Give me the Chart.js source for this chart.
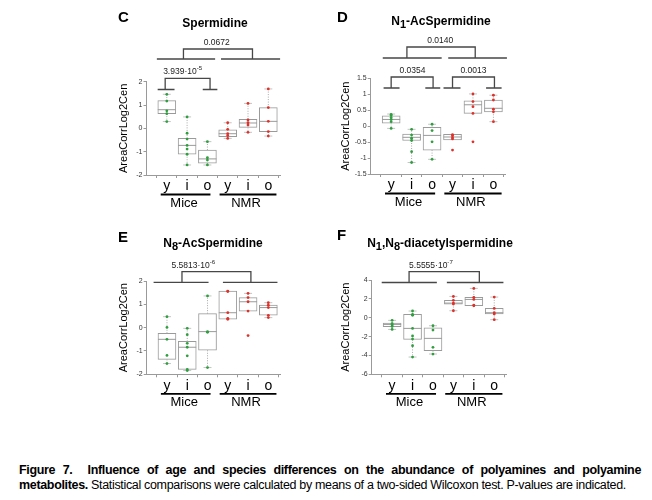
<!DOCTYPE html>
<html><head><meta charset="utf-8">
<script src="https://cdn.jsdelivr.net/npm/chart.js@4.4.1/dist/chart.umd.min.js"></script>
<style>
html,body{margin:0;padding:0;background:#fff}
body{width:652px;height:500px;position:relative;overflow:hidden}
canvas{position:absolute}
.cap{position:absolute;left:19px;font-family:'Liberation Sans Narrow','Liberation Sans',Arial,sans-serif;font-size:12.5px;line-height:15px;color:#000;white-space:nowrap}
</style></head><body>
<canvas id="cC" style="left:100px;top:0px;width:230px;height:220px" width="230" height="220"></canvas>
<canvas id="cD" style="left:326px;top:0px;width:230px;height:220px" width="230" height="220"></canvas>
<canvas id="cE" style="left:100px;top:220px;width:230px;height:215px" width="230" height="215"></canvas>
<canvas id="cF" style="left:326px;top:220px;width:230px;height:215px" width="230" height="215"></canvas>
<div class="cap" id="cap1" style="top:463px;width:622px;text-align:justify;text-align-last:justify;font-weight:bold">Figure 7.&nbsp; Influence of age and species differences on the abundance of polyamines and polyamine</div>
<div class="cap" id="cap2" style="top:478px"><b>metabolites.</b> Statistical comparisons were calculated by means of a two-sided Wilcoxon test. P-values are indicated.</div>
<script>
// ---------- data ----------
const ageLabels = ['y','i','o','y','i','o'];
const groupLabels = ['Mice','NMR'];
const yAxisTitle = 'AreaCorrLog2Cen';

// Panel C: Spermidine
const titleC = 'Spermidine';
const ticksC = [-2,-1,0,1,2];
const lowC  = [0.29,-1.57,-1.57,-0.43,-0.17,-0.33];
const q1C   = [0.63,-1.11,-1.49,-0.36, 0.04,-0.14];
const medC  = [0.80,-0.73,-1.31,-0.23, 0.23, 0.30];
const q3C   = [1.19,-0.43,-0.93,-0.06, 0.39, 0.89];
const highC = [1.46, 0.49,-0.57, 0.24, 1.07, 1.69];
const ptsC  = [[1.46,1.17,0.75,0.63,0.29],[0.49,-0.21,-0.46,-0.73,-0.89,-1.11,-1.57],[-0.57,-1.26,-1.36,-1.57],[0.24,-0.04,-0.23,-0.31,-0.43],[1.07,0.36,0.24,0.14,-0.17],[1.69,0.89,0.30,-0.14,-0.33]];
const pC = ['0.0672','3.939·10^-5'];

// Panel D: N1-AcSpermidine
const titleD = 'N_1-AcSpermidine';
const ticksD = [-1.5,-1,-0.5,0,0.5,1,1.5];
const lowD  = [-0.07,-1.14,-1.04,-0.43,0.40,0.14];
const q1D   = [ 0.09,-0.45,-0.75,-0.43,0.40,0.45];
const medD  = [ 0.21,-0.35,-0.29,-0.34,0.67,0.56];
const q3D   = [ 0.32,-0.25,-0.04,-0.26,0.79,0.82];
const highD = [ 0.38,-0.10, 0.06,-0.26,1.01,0.97];
const ptsD  = [[0.37,0.33,0.27,0.21,0.14,-0.07],[-0.10,-0.28,-0.38,-0.45,-0.80,-1.14],[0.06,-0.14,-0.49,-1.04],[-0.27,-0.30,-0.36,-0.40,-0.75],[1.01,0.77,0.61,0.40,-0.49],[0.97,0.82,0.53,0.45,0.14]];
const pD = ['0.0140','0.0354','0.0013'];

// Panel E: N8-AcSpermidine
const titleE = 'N_8-AcSpermidine';
const ticksE = [-2,-1,0,1,2];
const lowE  = [-1.54,-1.84,-1.71,0.36,0.71,0.43];
const q1E   = [-1.36,-1.79,-0.97,0.36,0.71,0.53];
const medE  = [-0.50,-0.84,-0.17,0.64,1.11,0.86];
const q3E   = [-0.24,-0.59, 0.60,1.57,1.29,0.97];
const highE = [ 0.47,-0.03, 1.36,1.57,1.47,1.07];
const ptsE  = [[0.47,0.01,-0.50,-1.19,-1.54],[-0.03,-0.30,-0.67,-0.84,-1.21,-1.79,-1.84],[1.36,-0.17,-0.20,-1.71],[1.57,1.55,0.64,0.40,0.36],[1.47,1.29,1.11,0.71,-0.34],[1.07,0.96,0.86,0.53,0.43]];
const pE = ['5.5813·10^-6'];

// Panel F: N1,N8-diacetylspermidine
const titleF = 'N_1,N_8-diacetylspermidine';
const ticksF = [-6,-4,-2,0,2,4];
const lowF  = [-1.24,-4.17,-3.85,0.74,1.27,-0.21];
const q1F   = [-0.95,-2.30,-3.50,1.45,1.27, 0.39];
const medF  = [-0.71,-1.13,-2.19,1.55,1.94, 0.53];
const q3F   = [-0.57, 0.35,-1.06,1.84,2.16, 0.99];
const highF = [-0.28, 0.71,-0.85,2.26,3.11, 2.19];
const ptsF  = [[-0.28,-0.64,-0.78,-0.92,-1.24],[0.71,0.35,0.25,-1.13,-1.94,-2.26,-2.97,-4.17],[-0.85,-1.31,-3.14,-3.85],[2.26,1.84,1.55,1.45,0.74],[3.11,2.16,1.94,1.34,1.27],[2.19,0.99,0.53,0.39,-0.21]];
const pF = ['5.5555·10^-7'];

// ---------- caption fit ----------
(function fitCaption() {
  const c1 = document.getElementById('cap1'), c2 = document.getElementById('cap2');
  const w2 = c2.getBoundingClientRect().width;
  const n2 = c2.textContent.length;
  const ls = Math.min(0, (607 - w2) / n2);
  c2.style.letterSpacing = ls + 'px';
  c1.style.letterSpacing = ls + 'px';
})();

// ---------- layout / drawing ----------
const FONT = "'Liberation Sans', Arial, sans-serif";
const YW = 40, XH = 22;

function drawRich(ctx, str, x, y, size, bold, align) {
  const parts = [];
  let i = 0, cur = '', sup = false;
  while (i < str.length) {
    const ch = str[i];
    if (ch === '_') { if (cur) parts.push({t:cur, k:'n'}); cur=''; parts.push({t:str[i+1], k:'sub'}); i += 2; continue; }
    if (ch === '^') { if (cur) parts.push({t:cur, k:'n'}); cur=''; parts.push({t:str.slice(i+1), k:'sup'}); sup = true; break; }
    cur += ch; i++;
  }
  if (cur && !sup) parts.push({t:cur, k:'n'});
  const w = (bold ? 'bold ' : '');
  const fontFor = k => w + (k === 'n' ? size : (k === 'sub' ? size*0.92 : size*0.72)) + 'px ' + FONT;
  let total = 0;
  parts.forEach(p => { ctx.font = fontFor(p.k); p.w = ctx.measureText(p.t).width; total += p.w; });
  let cx = align === 'left' ? x : x - total/2;
  ctx.textBaseline = 'alphabetic'; ctx.textAlign = 'left';
  parts.forEach(p => {
    ctx.font = fontFor(p.k);
    const dy = p.k === 'sub' ? size*0.25 : (p.k === 'sup' ? -size*0.45 : 0);
    ctx.fillText(p.t, cx, y + dy);
    cx += p.w;
  });
}

function panelPlugin(P) {
  return {
    id: 'panel' + P.letter,
    afterDatasetDraw(chart, args) {
      if (args.index !== 0) return;
      const ctx = chart.ctx, xs = chart.scales.x, ys = chart.scales.y;
      ctx.save();
      P.low.forEach((lo, i) => {
        const x = xs.getPixelForValue(i + 1);
        const yq1 = ys.getPixelForValue(P.q1[i]), yq3 = ys.getPixelForValue(P.q3[i]);
        const yl = ys.getPixelForValue(lo), yh = ys.getPixelForValue(P.high[i]);
        ctx.strokeStyle = '#a8a8a8'; ctx.lineWidth = 1; ctx.setLineDash([1, 1.5]);
        ctx.beginPath();
        if (yh < yq3 - 0.5) { ctx.moveTo(x, yq3); ctx.lineTo(x, yh); }
        if (yl > yq1 + 0.5) { ctx.moveTo(x, yq1); ctx.lineTo(x, yl); }
        ctx.stroke();
        ctx.setLineDash([]);
        ctx.strokeStyle = '#c4c4c4';
        ctx.beginPath();
        if (yh < yq3 - 0.5) { ctx.moveTo(x - 4, yh); ctx.lineTo(x + 4, yh); }
        if (yl > yq1 + 0.5) { ctx.moveTo(x - 4, yl); ctx.lineTo(x + 4, yl); }
        ctx.stroke();
        const ym = ys.getPixelForValue(P.med[i]);
        ctx.strokeStyle = '#9a9a9a'; ctx.lineWidth = 1;
        ctx.beginPath(); ctx.moveTo(x - 9, ym); ctx.lineTo(x + 9, ym); ctx.stroke();
      });
      ctx.restore();
    },
    afterDraw(chart) {
      const ctx = chart.ctx, xs = chart.scales.x, ys = chart.scales.y, a = chart.chartArea;
      ctx.save();
      ctx.fillStyle = '#000';
      ctx.font = 'bold 15px ' + FONT; ctx.textAlign = 'left'; ctx.textBaseline = 'alphabetic';
      ctx.fillText(P.letter, P.letterPos[0], P.letterPos[1]);
      drawRich(ctx, P.title, P.titlePos[0], P.titlePos[1], 12, true, 'center');
      ctx.save();
      ctx.translate(P.yTitleX, (a.top + a.bottom) / 2);
      ctx.rotate(-Math.PI / 2);
      ctx.font = '11px ' + FONT; ctx.textAlign = 'center'; ctx.textBaseline = 'middle';
      ctx.fillText(yAxisTitle, 0, 0);
      ctx.restore();
      ctx.strokeStyle = '#000'; ctx.lineWidth = 1.8;
      [[0.7, 3.15], [3.6, 6.4]].forEach((g, k) => {
        const y = a.bottom + 19.5;
        ctx.beginPath(); ctx.moveTo(xs.getPixelForValue(g[0]), y); ctx.lineTo(xs.getPixelForValue(g[1]), y); ctx.stroke();
        ctx.font = '13px ' + FONT; ctx.textAlign = 'center'; ctx.textBaseline = 'alphabetic';
        ctx.fillText(groupLabels[k], xs.getPixelForValue(k === 0 ? 1.85 : 4.9), a.bottom + 32);
      });
      ctx.strokeStyle = '#474747'; ctx.lineWidth = 1.3; ctx.fillStyle = '#222';
      P.brackets.forEach(b => {
        const yb = a.top + b.bar, yl = a.top + b.line;
        ctx.beginPath();
        b.segs.forEach(s => { ctx.moveTo(xs.getPixelForValue(s[0]), yl); ctx.lineTo(xs.getPixelForValue(s[1]), yl); });
        const t1 = xs.getPixelForValue(b.ticks[0]), t2 = xs.getPixelForValue(b.ticks[1]);
        ctx.moveTo(t1, yl); ctx.lineTo(t1, yb); ctx.lineTo(t2, yb); ctx.lineTo(t2, yl);
        ctx.stroke();
        drawRich(ctx, P.pvals[b.p], xs.getPixelForValue(b.labelX), yb - 4, 8.5, false, 'center');
      });
      ctx.restore();
    }
  };
}

function makePanel(id, P) {
  const el = document.getElementById(id);
  const W = el.width, H = el.height;
  const boxData = P.q1.map((q, i) => ({x: i + 1, y: [q, P.q3[i]]}));
  const mice = [], nmr = [];
  P.points.forEach((arr, i) => arr.forEach(v => (i < 3 ? mice : nmr).push({x: i + 1, y: v})));
  const grid = {display: true, drawOnChartArea: false, drawTicks: true, tickLength: 3, color: '#9a9a9a', lineWidth: 1};
  new Chart(el, {
    type: 'bar',
    data: {datasets: [
      {type: 'bar', data: boxData, backgroundColor: '#ffffff', borderColor: '#9a9a9a', borderWidth: 1, borderSkipped: false, barThickness: 18, order: 3},
      {type: 'scatter', data: mice, backgroundColor: '#2f9e3f', borderWidth: 0, pointRadius: 1.4, order: 1},
      {type: 'scatter', data: nmr, backgroundColor: '#e0302a', borderWidth: 0, pointRadius: 1.4, order: 1}
    ]},
    options: {
      responsive: false, animation: false, events: [], devicePixelRatio: 1,
      layout: {padding: {left: P.area.l - YW, top: P.area.t, right: W - P.area.r, bottom: H - P.area.b - XH}},
      plugins: {legend: {display: false}, tooltip: {enabled: false}, title: {display: false}},
      scales: {
        x: {type: 'linear', min: 0, max: 6.6, offset: false,
            afterFit(s) { s.height = XH; },
            afterBuildTicks(s) { s.ticks = ageLabels.map((_, i) => ({value: i + 1})); },
            ticks: {callback: v => ageLabels[Math.round(v) - 1], font: {size: 14, family: FONT}, color: '#000', padding: 0, maxRotation: 0, autoSkip: false},
            grid: grid, border: {display: true, color: '#9a9a9a', width: 1}},
        y: {type: 'linear', min: P.yTicks[0], max: P.yTicks[P.yTicks.length - 1],
            afterFit(s) { s.width = YW; },
            afterBuildTicks(s) { s.ticks = P.yTicks.map(v => ({value: v})); },
            ticks: {callback: v => String(v), font: {size: 7, family: FONT}, color: '#333', padding: 1, autoSkip: false},
            grid: grid, border: {display: true, color: '#9a9a9a', width: 1}}
      }
    },
    plugins: [panelPlugin(P)]
  });
}

makePanel('cC', {letter: 'C', letterPos: [18, 22], title: titleC, titlePos: [115, 27], yTitleX: 24,
  area: {l: 46.5, t: 81.7, r: 180.5, b: 175}, yTicks: ticksC,
  low: lowC, q1: q1C, med: medC, q3: q3C, high: highC, points: ptsC, pvals: pC,
  brackets: [
    {p: 0, bar: -32.7, line: -22.7, segs: [[0.51, 3.38], [3.67, 6.58]], ticks: [1.82, 5.22], labelX: 3.46},
    {p: 1, bar: -3.4, line: 7.8, segs: [[0.55, 1.38], [2.77, 3.49]], ticks: [0.92, 3.13], labelX: 1.78}
  ]});

makePanel('cD', {letter: 'D', letterPos: [11, 22], title: titleD, titlePos: [115, 25], yTitleX: 20,
  area: {l: 44.7, t: 78.3, r: 179.7, b: 174}, yTicks: ticksD,
  low: lowD, q1: q1D, med: medD, q3: q3D, high: highD, points: ptsD, pvals: pD,
  brackets: [
    {p: 0, bar: -31.3, line: -20.3, segs: [[0.59, 3.47], [3.79, 6.66]], ticks: [1.77, 5.11], labelX: 3.4},
    {p: 1, bar: -1.3, line: 9.7, segs: [[0.63, 1.41], [2.67, 3.4]], ticks: [1.0, 3.05], labelX: 2.04},
    {p: 2, bar: -1.3, line: 9.7, segs: [[3.56, 4.39], [5.64, 6.4]], ticks: [4.0, 6.05], labelX: 5.02}
  ]});

makePanel('cE', {letter: 'E', letterPos: [18, 22], title: titleE, titlePos: [113, 27], yTitleX: 24,
  area: {l: 46.7, t: 61, r: 180.5, b: 154.3}, yTicks: ticksE,
  low: lowE, q1: q1E, med: medE, q3: q3E, high: highE, points: ptsE, pvals: pE,
  brackets: [
    {p: 0, bar: -9.3, line: 1.3, segs: [[0.34, 3.05], [3.76, 6.45]], ticks: [1.74, 5.14], labelX: 2.3}
  ]});

makePanel('cF', {letter: 'F', letterPos: [11, 20], title: titleF, titlePos: [114, 27], yTitleX: 20,
  area: {l: 45.7, t: 60, r: 180.5, b: 154.3}, yTicks: ticksF,
  low: lowF, q1: q1F, med: medF, q3: q3F, high: highF, points: ptsF, pvals: pF,
  brackets: [
    {p: 0, bar: -8.3, line: 2.5, segs: [[0.49, 3.19], [3.68, 6.45]], ticks: [1.83, 5.27], labelX: 2.9}
  ]});
</script>
</body></html>
